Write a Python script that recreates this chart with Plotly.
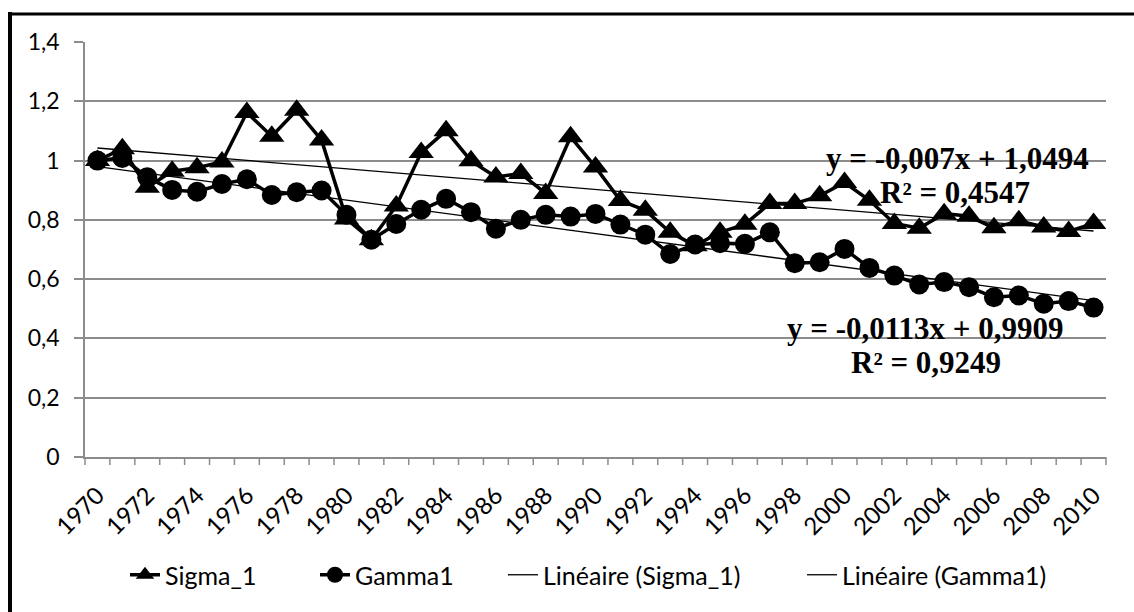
import plotly.graph_objects as go

years = list(range(1970, 2011))
sigma_1 = [1.00, 1.04, 0.91, 0.964, 0.976, 0.995, 1.162, 1.082, 1.170, 1.069,
           0.803, 0.733, 0.847, 1.027, 1.101, 0.999, 0.945, 0.956, 0.889, 1.080,
           0.978, 0.865, 0.832, 0.758, 0.713, 0.758, 0.785, 0.855, 0.855, 0.881,
           0.926, 0.866, 0.788, 0.772, 0.821, 0.812, 0.773, 0.797, 0.776, 0.761, 0.788]
gamma1 = [1.00, 1.009, 0.944, 0.901, 0.895, 0.921, 0.937, 0.884, 0.893, 0.899,
          0.817, 0.733, 0.786, 0.834, 0.871, 0.826, 0.770, 0.800, 0.817, 0.811,
          0.820, 0.784, 0.750, 0.685, 0.717, 0.721, 0.719, 0.758, 0.654, 0.657,
          0.702, 0.638, 0.612, 0.582, 0.590, 0.573, 0.539, 0.545, 0.517, 0.526, 0.504]

# trendline coefficients (Excel, x = 1..41)
sigma_slope, sigma_intercept = -0.007, 1.0494
gamma_slope, gamma_intercept = -0.0113, 0.9909
sigma_r2 = "0,4547"
gamma_r2 = "0,9249"

categories = [str(y) for y in years]
x_labels = [str(y) if y % 2 == 0 else "" for y in years]
y_ticks = [0, 0.2, 0.4, 0.6, 0.8, 1.0, 1.2, 1.4]
y_labels = ["0", "0,2", "0,4", "0,6", "0,8", "1", "1,2", "1,4"]

idx = [i + 1 for i in range(len(years))]
sigma_trend = [sigma_slope * i + sigma_intercept for i in idx]
gamma_trend = [gamma_slope * i + gamma_intercept for i in idx]

GRID = "#8c8c8c"
FONT = "Lato"

# pixel -> paper helpers (plot area 85..1106 x, 42..457 y)
L, R, T, B = 85, 1106, 42, 457
def px(x):
    return (x - L) / (R - L)
def py(y):
    return (B - y) / (B - T)

fig = go.Figure()
fig.add_trace(go.Scatter(x=categories, y=sigma_1, name="Sigma_1", mode="lines+markers",
                         line=dict(color="black", width=3.5),
                         marker=dict(symbol="triangle-up", size=22, color="black"),
                         legend="legend", showlegend=True))
fig.add_trace(go.Scatter(x=categories, y=gamma1, name="Gamma1", mode="lines+markers",
                         line=dict(color="black", width=3.5),
                         marker=dict(symbol="circle", size=20, color="black"),
                         legend="legend2", showlegend=True))
fig.add_trace(go.Scatter(x=categories, y=sigma_trend, name="Linéaire (Sigma_1)", mode="lines",
                         line=dict(color="black", width=1.3), legend="legend3",
                         showlegend=True))
fig.add_trace(go.Scatter(x=categories, y=gamma_trend, name="Linéaire (Gamma1)", mode="lines",
                         line=dict(color="black", width=1.3), legend="legend4",
                         showlegend=True))

leg_font = dict(family=FONT, size=25, color="black")
leg_y = py(575)
def leg(x):
    return dict(x=px(x), y=leg_y, xanchor="left", yanchor="middle", orientation="h",
                font=leg_font, bgcolor="rgba(0,0,0,0)", borderwidth=0)

ann_font = dict(family="Liberation Serif", size=31, color="black")
annotations = [
    dict(text="<b>y = -0,007x + 1,0494</b>", x=px(957), y=py(158)),
    dict(text="<b>R² = " + sigma_r2 + "</b>", x=px(955), y=py(192)),
    dict(text="<b>y = -0,0113x + 0,9909</b>", x=px(925), y=py(328)),
    dict(text="<b>R² = " + gamma_r2 + "</b>", x=px(926), y=py(362)),
]
for a in annotations:
    a.update(xref="paper", yref="paper", showarrow=False, font=ann_font,
             xanchor="center", yanchor="middle")

# category-boundary tick marks on the x axis (one per boundary)
n_cat = len(categories)
tick_shapes = [
    dict(type="line", xref="paper", yref="paper", x0=k / n_cat, x1=k / n_cat,
         y0=0, y1=-8 / (B - T), line=dict(color=GRID, width=1.5), layer="above")
    for k in range(n_cat + 1)
]

fig.update_layout(
    width=1134, height=612,
    margin=dict(l=L, r=1134 - R, t=T, b=612 - B),
    paper_bgcolor="white", plot_bgcolor="white",
    font=dict(family=FONT, size=23, color="black"),
    showlegend=True,
    legend=leg(125), legend2=leg(315), legend3=leg(503), legend4=leg(802),
    annotations=annotations,
    shapes=[
        dict(type="line", xref="paper", yref="paper", x0=px(10), x1=px(10),
             y0=py(620), y1=py(12), line=dict(color="black", width=4), layer="above"),
        dict(type="line", xref="paper", yref="paper", x0=px(8), x1=px(1140),
             y0=py(14), y1=py(14), line=dict(color="black", width=3), layer="above"),
    ] + tick_shapes,
)
fig.update_xaxes(
    type="category", range=[-0.5, n_cat - 0.5],
    tickmode="array", tickvals=categories, ticktext=x_labels,
    ticks="", tickangle=-45, showgrid=False, zeroline=False,
    showline=True, linecolor=GRID, linewidth=1.5,
    ticklabelstandoff=13,
    tickfont=dict(family=FONT, size=24, color="black"),
)
fig.update_yaxes(
    range=[0, 1.4], tickmode="array", tickvals=y_ticks, ticktext=y_labels,
    showgrid=True, gridcolor=GRID, gridwidth=1.5, zeroline=False,
    showline=True, linecolor=GRID, linewidth=1.5,
    ticks="outside", ticklen=9, tickcolor=GRID, tickwidth=1.5,
    ticklabelstandoff=10,
    tickfont=dict(family=FONT, size=23, color="black"),
)

fig.write_html("out.html", config={"displayModeBar": False},
               post_script="document.body.style.margin='0';document.body.style.overflow='hidden';")
